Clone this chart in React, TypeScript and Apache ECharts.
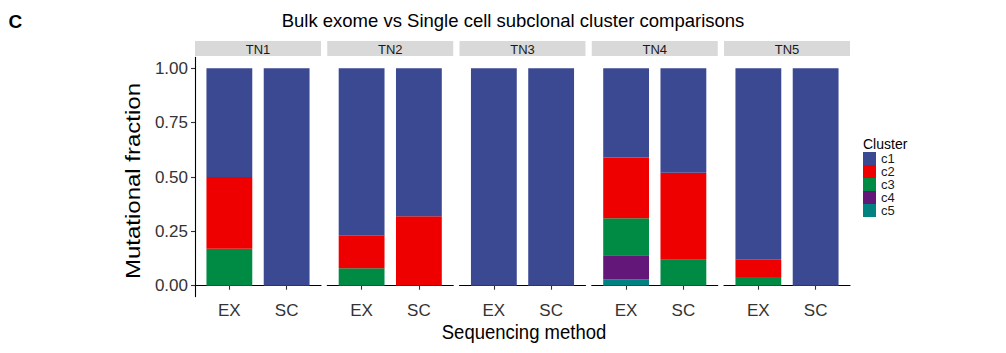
import React, { useEffect, useRef } from "react";
import * as echarts from "echarts";

const facets = ["TN1", "TN2", "TN3", "TN4", "TN5"];
const methods = ["EX", "SC"];
const clusters = ["c1", "c2", "c3", "c4", "c5"];
const clusterColors = ["#3B4992", "#EE0000", "#008B45", "#631879", "#008280"];
const yTicks = [0, 0.25, 0.5, 0.75, 1];

// values per facet x method: TN1 EX, TN1 SC, TN2 EX, TN2 SC, ...
const c1 = [0.5, 1.0, 0.77, 0.68, 1.0, 1.0, 0.41, 0.48, 0.88, 1.0];
const c2 = [0.33, 0, 0.15, 0.32, 0, 0, 0.28, 0.4, 0.08, 0];
const c3 = [0.17, 0, 0.08, 0, 0, 0, 0.17, 0.12, 0.04, 0];
const c4 = [0, 0, 0, 0, 0, 0, 0.11, 0, 0, 0];
const c5 = [0, 0, 0, 0, 0, 0, 0.03, 0, 0, 0];
const clusterValues = [c1, c2, c3, c4, c5];

const FONT = "Liberation Sans, Arial, sans-serif";

export default function App() {
  const ref = useRef<HTMLDivElement>(null);
  useEffect(() => {
    document.body.style.margin = "0";
    const chart = echarts.init(ref.current!, null, { renderer: "svg" });
    const panelLeft0 = 195;
    const panelW = 126;
    const panelStep = 132.25;
    const gridTop = 57.4;
    const gridH = 239.2;
    const unit = panelW / 2.2;
    const inset = unit * 0.1;

    const grids: any[] = [];
    const xAxes: any[] = [];
    const yAxes: any[] = [];
    const series: any[] = [];
    const graphics: any[] = [];

    facets.forEach((f, i) => {
      const left = panelLeft0 + i * panelStep;
      // visible axes grid (full panel)
      grids.push({ left, top: gridTop, width: panelW, height: gridH });
      // bar grid (inset to mimic discrete expansion)
      grids.push({ left: left + inset, top: gridTop, width: panelW - 2 * inset, height: gridH });

      xAxes.push({
        type: "value",
        gridIndex: 2 * i,
        min: 0.4,
        max: 2.6,
        splitLine: { show: false },
        axisLine: { show: true, lineStyle: { color: "#000", width: 1.1 } },
        axisTick: { show: true, customValues: [1, 2], length: 4, lineStyle: { color: "#333", width: 1.1 } },
        axisLabel: {
          customValues: [1, 2],
          formatter: (v: number) => methods[Math.round(v) - 1] ?? "",
          color: "#333",
          fontSize: 17,
          fontFamily: FONT,
          margin: 5,
        },
      });
      xAxes.push({
        type: "category",
        gridIndex: 2 * i + 1,
        data: methods,
        show: false,
      });
      yAxes.push({
        type: "value",
        gridIndex: 2 * i,
        min: -0.05,
        max: 1.05,
        show: i === 0,
        splitLine: { show: false },
        axisLine: { show: true, lineStyle: { color: "#000", width: 1.1 } },
        axisTick: { show: true, customValues: yTicks, length: 4, lineStyle: { color: "#333", width: 1.1 } },
        axisLabel: {
          customValues: yTicks,
          formatter: (v: number) => v.toFixed(2),
          color: "#333",
          fontSize: 17,
          fontFamily: FONT,
          margin: 7,
        },
      });
      yAxes.push({
        type: "value",
        gridIndex: 2 * i + 1,
        min: -0.05,
        max: 1.05,
        show: false,
      });
      for (let k = clusters.length - 1; k >= 0; k--) {
        series.push({
          type: "bar",
          name: clusters[k],
          xAxisIndex: 2 * i + 1,
          yAxisIndex: 2 * i + 1,
          stack: "s" + i,
          barWidth: unit * 0.8,
          itemStyle: { color: clusterColors[k] },
          data: methods.map((m, j) => clusterValues[k][i * 2 + j]),
        });
      }
      graphics.push({
        type: "rect",
        shape: { x: left, y: 41, width: panelW, height: 15 },
        style: { fill: "#d9d9d9" },
        silent: true,
      });
      graphics.push({
        type: "text",
        x: left + panelW / 2,
        y: 49,
        style: { text: f, fontSize: 13, fill: "#1a1a1a", fontFamily: FONT, align: "center", verticalAlign: "middle" },
      });
    });

    graphics.push({
      type: "text",
      x: 513,
      y: 20,
      style: {
        text: "Bulk exome vs Single cell subclonal cluster comparisons",
        fontSize: 18.5,
        fill: "#000",
        fontFamily: FONT,
        align: "center",
        verticalAlign: "middle",
      },
    });
    graphics.push({
      type: "text",
      x: 8.5,
      y: 21.5,
      style: { text: "C", fontSize: 19, fontWeight: "bold", fill: "#000", fontFamily: FONT, verticalAlign: "middle" },
    });
    graphics.push({
      type: "text",
      x: 133,
      y: 181,
      rotation: Math.PI / 2,
      scaleX: 1.2,
      style: {
        text: "Mutational fraction",
        fontSize: 20,
        fill: "#000",
        fontFamily: FONT,
        align: "center",
        verticalAlign: "middle",
      },
    });
    graphics.push({
      type: "text",
      x: 524,
      y: 332,
      scaleY: 1.12,
      style: {
        text: "Sequencing method",
        fontSize: 18.5,
        fill: "#000",
        fontFamily: FONT,
        align: "center",
        verticalAlign: "middle",
      },
    });
    graphics.push({
      type: "text",
      x: 863,
      y: 144,
      style: { text: "Cluster", fontSize: 14, fill: "#000", fontFamily: FONT, verticalAlign: "middle" },
    });

    chart.setOption({
      animation: false,
      backgroundColor: "#fff",
      grid: grids,
      xAxis: xAxes,
      yAxis: yAxes,
      series,
      graphic: graphics,
      legend: {
        data: clusters,
        orient: "vertical",
        left: 863,
        top: 152,
        padding: 0,
        itemGap: 0,
        itemWidth: 13,
        itemHeight: 13,
        icon: "rect",
        selectedMode: false,
        textStyle: { fontSize: 13, color: "#1a1a1a", fontFamily: FONT, lineHeight: 13 },
      },
    });
    return () => chart.dispose();
  }, []);
  return <div ref={ref} style={{ width: 1006, height: 353 }} />;
}
